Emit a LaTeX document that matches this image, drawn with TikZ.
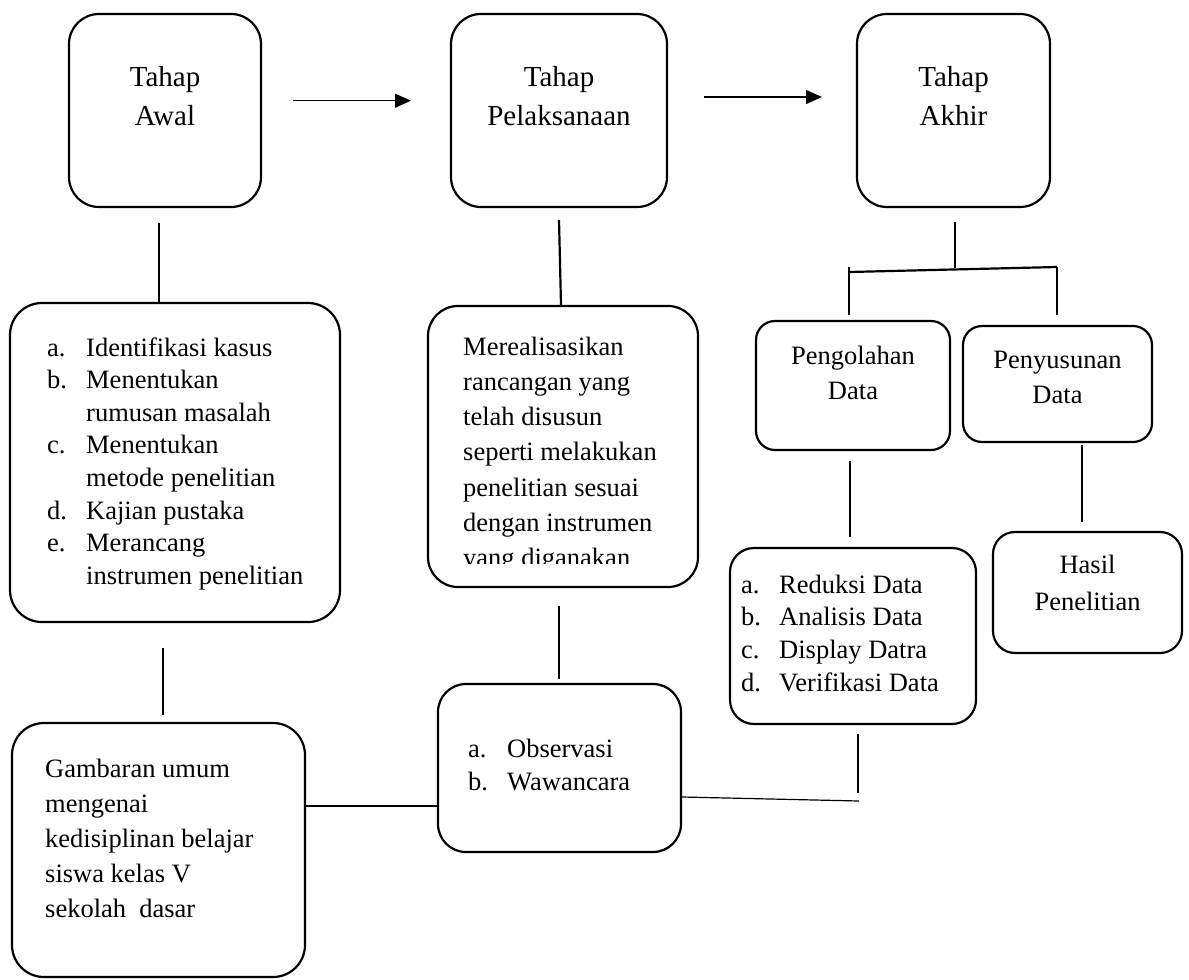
\documentclass[tikz,border=0pt]{standalone}
\usepackage{fontspec}
\setmainfont{Liberation Serif}
\usetikzlibrary{arrows.meta,calc}
\tikzset{
  box/.style={draw, line width=2.2pt, rounded corners=#1, inner sep=0pt},
  box/.default=28pt,
  bigtxt/.style={font=\fontsize{29}{39}\selectfont, inner sep=0pt, anchor=base},
  ctxt/.style={font=\fontsize{26.5}{#1}\selectfont, inner sep=0pt, anchor=base},
  ltxt/.style={font=\fontsize{26.5}{#1}\selectfont, inner sep=0pt, anchor=base west},
  thickline/.style={line width=2.2pt},
  thinline/.style={line width=1.2pt},
  arr/.style={line width=1.3pt, -{Triangle[length=16pt,width=14pt]}},
}
\begin{document}
\begin{tikzpicture}[x=1pt,y=-1pt]
\fill[white] (0,0) rectangle (1189,980);
\useasboundingbox (0,0) rectangle (1189,980);

% top row
\node[box=30pt, minimum width=192pt, minimum height=193pt] (a1) at (165,110.5) {};
\node[box=30pt, minimum width=216pt, minimum height=193pt] (a2) at (559,110.5) {};
\node[box=30pt, minimum width=193pt, minimum height=193pt] (a3) at (953.5,110.5) {};
\node[bigtxt] (a1t) at (165,86) {\begin{tabular}[t]{@{}c@{}}Tahap\\Awal\end{tabular}};
\node[bigtxt] (a2t) at (559,86) {\begin{tabular}[t]{@{}c@{}}Tahap\\Pelaksanaan\end{tabular}};
\node[bigtxt] (a3t) at (953.5,86) {\begin{tabular}[t]{@{}c@{}}Tahap\\Akhir\end{tabular}};

% second row
\node[box=32pt, minimum width=330pt, minimum height=319pt] (b1) at (175,462.5) {};
\node[ltxt=32.6] (b1t) at (47,356) {\begin{tabular}[t]{@{}p{39pt}@{}l@{}}
a. & Identifikasi kasus\\
b. & Menentukan\\
   & rumusan masalah\\
c. & Menentukan\\
   & metode penelitian\\
d. & Kajian pustaka\\
e. & Merancang\\
   & instrumen penelitian
\end{tabular}};

\node[box=30pt, minimum width=270pt, minimum height=281pt] (b2) at (563,446.5) {};
\begin{scope}
\clip (428,300) rectangle (698,563);
\node[ltxt=35.3] (b2t) at (463,355) {\begin{tabular}[t]{@{}l@{}}
Merealisasikan\\
rancangan yang\\
telah disusun\\
seperti melakukan\\
penelitian sesuai\\
dengan instrumen\\
yang diganakan
\end{tabular}};
\end{scope}

% right column
\node[box=19pt, minimum width=194pt, minimum height=129pt] (p1) at (853,385.5) {};
\node[ctxt=35] (p1t) at (853,364) {\begin{tabular}[t]{@{}c@{}}Pengolahan\\Data\end{tabular}};
\node[box=19pt, minimum width=189pt, minimum height=116pt] (p2) at (1057.5,384) {};
\node[ctxt=35] (p2t) at (1057.5,368) {\begin{tabular}[t]{@{}c@{}}Penyusunan\\Data\end{tabular}};

\node[box=24pt, minimum width=246pt, minimum height=176pt] (d1) at (853,636) {};
\node[ltxt=32.7] (d1t) at (741,593) {\begin{tabular}[t]{@{}p{38pt}@{}l@{}}
a. & Reduksi Data\\
b. & Analisis Data\\
c. & Display Datra\\
d. & Verifikasi Data
\end{tabular}};

\node[box=22pt, minimum width=189pt, minimum height=121pt] (h) at (1087.5,592.5) {};
\node[ctxt=37] (ht) at (1087.5,573) {\begin{tabular}[t]{@{}c@{}}Hasil\\Penelitian\end{tabular}};

% bottom row
\node[box=32pt, minimum width=293pt, minimum height=254pt] (c1) at (158.5,850) {};
\node[ltxt=35.2] (c1t) at (45,777) {\begin{tabular}[t]{@{}l@{}}
Gambaran umum\\
mengenai\\
kedisiplinan belajar\\
siswa kelas V\\
sekolah\ \ dasar
\end{tabular}};

\node[box=28pt, minimum width=243pt, minimum height=168pt] (c2) at (559.5,768) {};
\node[ltxt=33] (c2t) at (468,757) {\begin{tabular}[t]{@{}p{39pt}@{}l@{}}
a. & Observasi\\
b. & Wawancara
\end{tabular}};

% connectors
\coordinate (r1s) at (293,100.7);
\coordinate (r1e) at (411,100.7);
\coordinate (r2s) at (704,97);
\coordinate (r2e) at (822,97);
\draw[arr] (r1s) -- (r1e);
\draw[arr] (r2s) -- (r2e);

\coordinate (l1) at (159,223);
\draw[thickline] (l1) -- (l1 |- b1.north);
\coordinate (l2) at (559,220);
\draw[thickline] (l2) -- ($(b2.north)+(-2,0)$);

\coordinate (l3a) at (163,648);
\coordinate (l3b) at (163,715);
\draw[thinline] (l3a) -- (l3b);
\coordinate (l4a) at (559,606);
\coordinate (l4b) at (559,679);
\draw[thinline] (l4a) -- (l4b);

\coordinate (m1) at (0,806);
\draw[thinline] (c1.east |- m1) -- (c2.west |- m1);
\coordinate (m2s) at (0,797);
\coordinate (m2) at (859,801);
\draw[thinline] (c2.east |- m2s) -- (m2);
\coordinate (m3a) at (858,734);
\coordinate (m3b) at (858,793);
\draw[thinline] (m3a) -- (m3b);

\coordinate (k0) at (955,222);
\coordinate (k1) at (955,268);
\draw[thickline] (k0) -- (k1);
\coordinate (bl) at (849,272);
\coordinate (br) at (1057,267);
\coordinate (bl2) at (849,315);
\coordinate (br2) at (1057,315);
\coordinate (bl0) at (849,267);
\draw[thickline] (bl) -- (br);
\draw[thickline] (bl0) -- (bl2);
\draw[thickline] (br) -- (br2);

\coordinate (q1a) at (850,461);
\coordinate (q1b) at (850,537);
\draw[thickline] (q1a) -- (q1b);
\coordinate (q2a) at (1082,445);
\coordinate (q2b) at (1082,522);
\draw[thickline] (q2a) -- (q2b);
\end{tikzpicture}
\end{document}
